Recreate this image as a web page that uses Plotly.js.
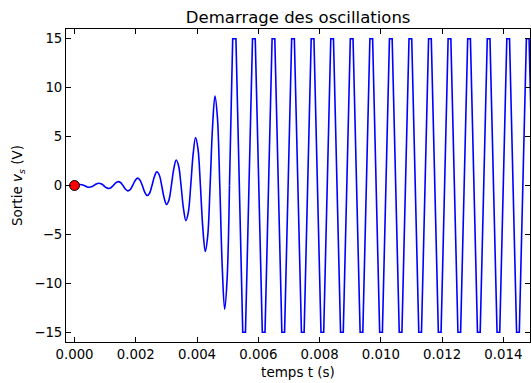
<!DOCTYPE html>
<html>
<head>
<meta charset="utf-8">
<script src="https://cdn.plot.ly/plotly-3.0.1.min.js"></script>
<style>
html,body{margin:0;padding:0;background:#fff;}
#chart{width:531px;height:383px;}
</style>
</head>
<body>
<div id="chart"></div>
<script>
// Start-up phase (growing oscillation), time in seconds, output in volts
const tStart = [
  0.000000, 0.000079, 0.000158, 0.000237, 0.000316, 0.000395, 0.000474, 0.000553,
  0.000632, 0.000711, 0.000790, 0.000869, 0.000948, 0.001028, 0.001107, 0.001186,
  0.001265, 0.001344, 0.001423, 0.001502, 0.001581, 0.001660, 0.001739, 0.001818,
  0.001897, 0.001976, 0.002055, 0.002134, 0.002213, 0.002292, 0.002371, 0.002450,
  0.002529, 0.002609, 0.002688, 0.002767, 0.002846, 0.002925, 0.003004, 0.003083,
  0.003162, 0.003241, 0.003320, 0.003399, 0.003478, 0.003557, 0.003636, 0.003715,
  0.003794, 0.003873, 0.003952, 0.004031, 0.004110, 0.004190, 0.004269, 0.004348,
  0.004427, 0.004506, 0.004585, 0.004664, 0.004743, 0.004822, 0.004901, 0.004980,
  0.005059
];
const vStart = [
  0, 0.065, 0.10, 0.077, 0, -0.118, -0.18, -0.138,
  0, 0.150, 0.23, 0.176, 0, -0.196, -0.30, -0.230,
  0, 0.261, 0.40, 0.306, 0, -0.359, -0.55, -0.421,
  0, 0.490, 0.75, 0.574, 0, -0.673, -1.03, -0.788,
  0, 0.914, 1.40, 1.071, 0, -1.260, -1.93, -1.476,
  0, 1.698, 2.60, 1.989, 0, -2.351, -3.60, -2.754,
  0, 3.200, 4.90, 3.749, 0, -4.408, -6.75, -5.164,
  0, 5.975, 9.15, 7.000, 0, -8.260, -12.65, -9.677,
  0
];
// Saturated phase (clipped at +/-15 V): start/end of each clipped plateau
const tSat = [
  0.005059, 0.005164, 0.005270, 0.005492, 0.005581, 0.005811, 0.005900, 0.006131,
  0.006219, 0.006450, 0.006539, 0.006769, 0.006858, 0.007089, 0.007177, 0.007408,
  0.007496, 0.007727, 0.007816, 0.008046, 0.008135, 0.008366, 0.008454, 0.008685,
  0.008774, 0.009004, 0.009093, 0.009324, 0.009412, 0.009643, 0.009732, 0.009962,
  0.010051, 0.010282, 0.010370, 0.010601, 0.010689, 0.010920, 0.011009, 0.011239,
  0.011328, 0.011559, 0.011647, 0.011878, 0.011967, 0.012197, 0.012286, 0.012517,
  0.012605, 0.012836, 0.012925, 0.013155, 0.013244, 0.013475, 0.013563, 0.013794,
  0.013882, 0.014113, 0.014202, 0.014432, 0.014521, 0.014752, 0.014840, 0.015071
];
const vSat = [
  0, 15, 15, -15, -15, 15, 15, -15,
  -15, 15, 15, -15, -15, 15, 15, -15,
  -15, 15, 15, -15, -15, 15, 15, -15,
  -15, 15, 15, -15, -15, 15, 15, -15,
  -15, 15, 15, -15, -15, 15, 15, -15,
  -15, 15, 15, -15, -15, 15, 15, -15,
  -15, 15, 15, -15, -15, 15, 15, -15,
  -15, 15, 15, -15, -15, 15, 15, -15
];
// Initial point
const tInit = [0];
const vInit = [0];

const xTicks = [0, 0.002, 0.004, 0.006, 0.008, 0.010, 0.012, 0.014];
const yTicks = [-15, -10, -5, 0, 5, 10, 15];

const FONT = 'DejaVu Sans, sans-serif';

const traces = [
  {x: tStart, y: vStart, type: 'scatter', mode: 'lines',
   line: {color: '#0000ff', width: 1.6, shape: 'spline', smoothing: 1}, hoverinfo: 'skip'},
  {x: tSat, y: vSat, type: 'scatter', mode: 'lines',
   line: {color: '#0000ff', width: 1.6}, hoverinfo: 'skip'},
  {x: tInit, y: vInit, type: 'scatter', mode: 'markers',
   marker: {color: '#ff0000', size: 10, line: {color: '#000000', width: 1}}, hoverinfo: 'skip'}
];

const layout = {
  width: 531, height: 383,
  margin: {l: 66, r: 1, t: 29, b: 41, pad: 0},
  paper_bgcolor: '#ffffff', plot_bgcolor: '#ffffff',
  showlegend: false,
  font: {family: FONT, size: 13.3, color: '#000000'},
  title: {text: 'Demarrage des oscillations', font: {family: FONT, size: 16.5, color: '#000000'},
          x: 0.5615, xanchor: 'center', y: 0.955, yanchor: 'middle'},
  xaxis: {
    range: [-0.000278, 0.01487],
    tickvals: xTicks, tickformat: '.3f',
    ticks: 'inside', ticklen: 5, tickwidth: 1, tickcolor: '#000',
    showline: true, linecolor: '#000', linewidth: 1, mirror: 'ticks',
    showgrid: false, zeroline: false,
    tickfont: {family: FONT, size: 13.3, color: '#000'},
    title: {text: 'temps t (s)', font: {family: FONT, size: 13.5, color: '#000'}, standoff: 6}
  },
  yaxis: {
    range: [-16, 16],
    tickvals: yTicks,
    ticks: 'inside', ticklen: 5, tickwidth: 1, tickcolor: '#000',
    showline: true, linecolor: '#000', linewidth: 1, mirror: 'ticks',
    showgrid: false, zeroline: false,
    tickfont: {family: FONT, size: 13.3, color: '#000'},
    title: {text: 'Sortie <i>v<sub>s</sub></i> (V)', font: {family: FONT, size: 13.5, color: '#000'}, standoff: 8}
  }
};

Plotly.newPlot('chart', traces, layout, {staticPlot: true, displayModeBar: false});
</script>
</body>
</html>
